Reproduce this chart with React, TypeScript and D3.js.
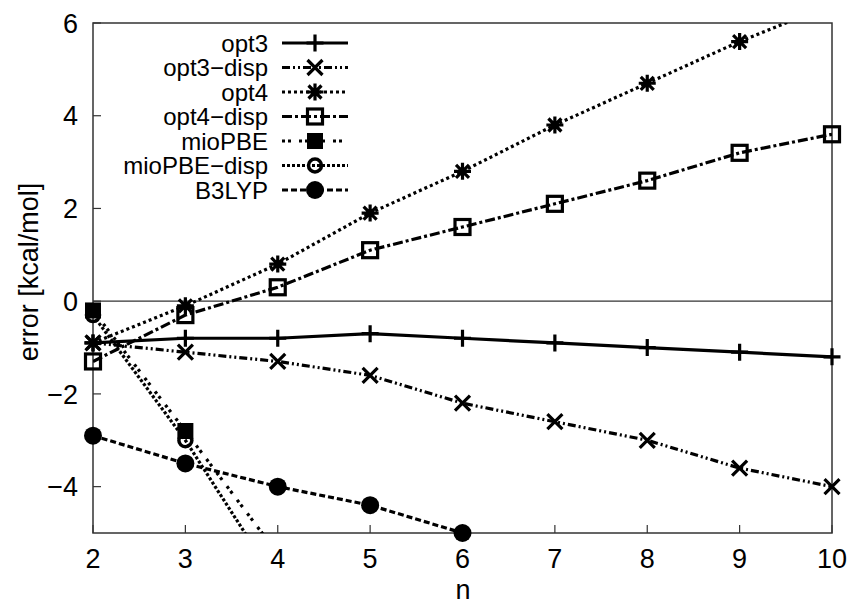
import React from "react";
import * as d3 from "d3";

const nValues = [2, 3, 4, 5, 6, 7, 8, 9, 10];
const opt3 = [-0.9, -0.8, -0.8, -0.7, -0.8, -0.9, -1.0, -1.1, -1.2];
const opt3Disp = [-0.9, -1.1, -1.3, -1.6, -2.2, -2.6, -3.0, -3.6, -4.0];
const opt4 = [-0.9, -0.1, 0.8, 1.9, 2.8, 3.8, 4.7, 5.6, 6.4];
const opt4Disp = [-1.3, -0.3, 0.3, 1.1, 1.6, 2.1, 2.6, 3.2, 3.6];
const mioPBE = [-0.2, -2.8, -5.45];
const mioPBEDisp = [-0.3, -3.0, -6.1];
const b3lyp = [-2.9, -3.5, -4.0, -4.4, -5.0];

const xTicks = [2, 3, 4, 5, 6, 7, 8, 9, 10];
const yTicks = [-4, -2, 0, 2, 4, 6];

const seriesNames = ["opt3", "opt3\u2212disp", "opt4", "opt4\u2212disp", "mioPBE", "mioPBE\u2212disp", "B3LYP"];
const seriesValues = [opt3, opt3Disp, opt4, opt4Disp, mioPBE, mioPBEDisp, b3lyp];
const seriesMarkers = ["plus", "cross", "star", "openSquare", "filledSquare", "openCircle", "filledCircle"];
const seriesDash = ["", "8,3,2,3,2,3", "3,3", "10,3,3,3", "3,3,3,8", "3,2", "6,3"];

const W = 855;
const H = 604;
const M = { left: 93, right: 832, top: 23, bottom: 533 };
const FONT = "'Liberation Sans', Arial, Helvetica, sans-serif";

function Marker({ type, x, y }: { type: string; x: number; y: number }) {
  const s = 8.5;
  const sw = 3.2;
  switch (type) {
    case "plus":
      return (
        <path d={`M${x - s},${y}H${x + s}M${x},${y - s}V${y + s}`} stroke="#000" strokeWidth={sw} fill="none" />
      );
    case "cross":
      return (
        <path d={`M${x - 7.5},${y - 7.5}L${x + 7.5},${y + 7.5}M${x - 7.5},${y + 7.5}L${x + 7.5},${y - 7.5}`} stroke="#000" strokeWidth={sw} fill="none" />
      );
    case "star":
      return (
        <path
          d={`M${x - s},${y}H${x + s}M${x},${y - s}V${y + s}M${x - 6.5},${y - 6.5}L${x + 6.5},${y + 6.5}M${x - 6.5},${y + 6.5}L${x + 6.5},${y - 6.5}`}
          stroke="#000"
          strokeWidth={sw}
          fill="none"
        />
      );
    case "openSquare":
      return <rect x={x - 7.5} y={y - 7.5} width={15} height={15} stroke="#000" strokeWidth={3.2} fill="none" />;
    case "filledSquare":
      return <rect x={x - 8} y={y - 8} width={16} height={16} fill="#000" />;
    case "openCircle":
      return <circle cx={x} cy={y} r={6.5} stroke="#000" strokeWidth={3.5} fill="none" />;
    case "filledCircle":
      return <circle cx={x} cy={y} r={9} fill="#000" />;
    default:
      return null;
  }
}

export default function App() {
  const x = d3.scaleLinear().domain([2, 10]).range([M.left, M.right]);
  const y = d3.scaleLinear().domain([-5, 6]).range([M.bottom, M.top]);

  const line = d3
    .line<[number, number]>()
    .x((d) => x(d[0]))
    .y((d) => y(d[1]));

  const legendY = (i: number) => 43 + i * 24.5;
  const legendTextX = 268;
  const legendLine = [282, 348];
  const legendMarkX = 315;

  return (
    <svg width={W} height={H} style={{ position: "absolute", left: 0, top: 0, background: "#fff" }} fontFamily={FONT}>
      <defs>
        <clipPath id="plotClip">
          <rect x={M.left} y={M.top} width={M.right - M.left} height={M.bottom - M.top} />
        </clipPath>
      </defs>
      <rect x={0} y={0} width={W} height={H} fill="#fff" />

      {/* zero line */}
      <line x1={M.left} x2={M.right} y1={y(0)} y2={y(0)} stroke="#333" strokeWidth={1.2} />

      {/* ticks */}
      {xTicks.map((t) => (
        <g key={"xt" + t}>
          <line x1={x(t)} x2={x(t)} y1={M.bottom} y2={M.bottom - 8} stroke="#333" strokeWidth={1.2} />
          <text x={x(t)} y={568} fontSize={27} textAnchor="middle" fill="#000">
            {t}
          </text>
        </g>
      ))}
      {yTicks.map((t) => (
        <g key={"yt" + t}>
          <line x1={M.left} x2={M.left + 8} y1={y(t)} y2={y(t)} stroke="#333" strokeWidth={1.2} />
          <text x={78} y={y(t)} dy="0.36em" fontSize={27} textAnchor="end" fill="#000">
            {t < 0 ? "\u2212" + Math.abs(t) : String(t)}
          </text>
        </g>
      ))}

      {/* border */}
      <rect x={M.left} y={M.top} width={M.right - M.left} height={M.bottom - M.top} fill="none" stroke="#333" strokeWidth={1.5} />

      {/* axis labels */}
      <text x={463} y={599} fontSize={27} textAnchor="middle" fill="#000">
        n
      </text>
      <text transform={`translate(38,${(M.top + M.bottom) / 2 - 6}) rotate(-90)`} fontSize={27} textAnchor="middle" fill="#000">
        error [kcal/mol]
      </text>

      {/* series lines */}
      <g clipPath="url(#plotClip)">
        {seriesValues.map((vals, i) => {
          const pts: [number, number][] = vals.map((v, j) => [nValues[j], v]);
          return (
            <path
              key={"l" + i}
              d={line(pts) || ""}
              fill="none"
              stroke="#000"
              strokeWidth={3.2}
              strokeDasharray={seriesDash[i] || undefined}
            />
          );
        })}
      </g>

      {/* markers */}
      {seriesValues.map((vals, i) =>
        vals.map((v, j) =>
          v >= -5 && v <= 6 ? <Marker key={"m" + i + "-" + j} type={seriesMarkers[i]} x={x(nValues[j])} y={y(v)} /> : null
        )
      )}

      {/* legend */}
      {seriesNames.map((name, i) => (
        <g key={"lg" + i}>
          <text x={legendTextX} y={legendY(i)} dy="0.36em" fontSize={24} textAnchor="end" fill="#000">
            {name}
          </text>
          <line
            x1={legendLine[0]}
            x2={legendLine[1]}
            y1={legendY(i)}
            y2={legendY(i)}
            stroke="#000"
            strokeWidth={3.2}
            strokeDasharray={seriesDash[i] || undefined}
          />
          <Marker type={seriesMarkers[i]} x={legendMarkX} y={legendY(i)} />
        </g>
      ))}
    </svg>
  );
}
